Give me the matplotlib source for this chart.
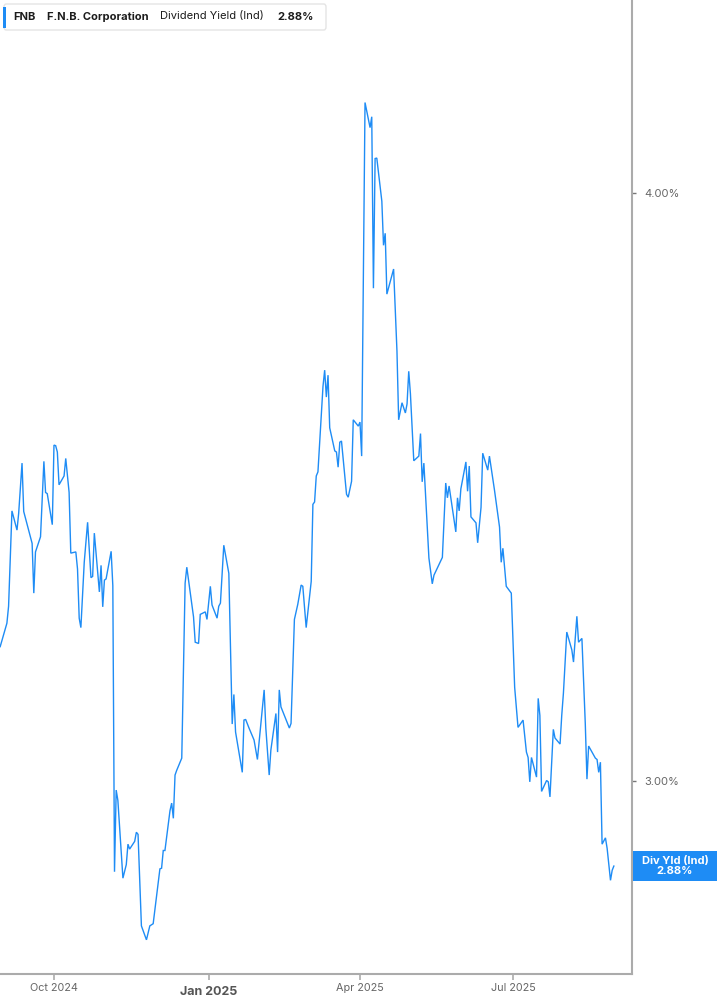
import pandas as pd
import matplotlib
matplotlib.use("Agg")
import matplotlib.pyplot as plt
import matplotlib.dates as mdates
from matplotlib.patches import Rectangle, FancyBboxPatch
from matplotlib.ticker import FixedLocator, NullLocator
from matplotlib.transforms import blended_transform_factory, IdentityTransform

# ----------------------------------------
# data
# ----------------------------------------
dates = [
    "2024-08-30", "2024-09-03", "2024-09-04", "2024-09-06", "2024-09-09", "2024-09-10",
    "2024-09-12", "2024-09-13", "2024-09-18", "2024-09-19", "2024-09-20", "2024-09-23",
    "2024-09-25", "2024-09-26", "2024-09-27", "2024-09-30", "2024-10-01", "2024-10-02",
    "2024-10-03", "2024-10-04", "2024-10-07", "2024-10-08", "2024-10-10", "2024-10-11",
    "2024-10-14", "2024-10-15", "2024-10-16", "2024-10-17", "2024-10-19", "2024-10-21",
    "2024-10-23", "2024-10-24", "2024-10-25", "2024-10-28", "2024-10-29", "2024-10-30",
    "2024-10-31", "2024-11-01", "2024-11-04", "2024-11-05", "2024-11-06", "2024-11-07",
    "2024-11-08", "2024-11-11", "2024-11-13", "2024-11-14", "2024-11-15", "2024-11-18",
    "2024-11-19", "2024-11-20", "2024-11-22", "2024-11-25", "2024-11-27", "2024-11-29",
    "2024-12-03", "2024-12-04", "2024-12-05", "2024-12-06", "2024-12-09", "2024-12-10",
    "2024-12-11", "2024-12-12", "2024-12-13", "2024-12-16", "2024-12-18", "2024-12-19",
    "2024-12-23", "2024-12-24", "2024-12-26", "2024-12-27", "2024-12-30", "2024-12-31",
    "2025-01-02", "2025-01-03", "2025-01-06", "2025-01-07", "2025-01-08", "2025-01-10",
    "2025-01-13", "2025-01-15", "2025-01-16", "2025-01-17", "2025-01-21", "2025-01-22",
    "2025-01-23", "2025-01-25", "2025-01-28", "2025-01-30", "2025-02-03", "2025-02-04",
    "2025-02-06", "2025-02-07", "2025-02-10", "2025-02-11", "2025-02-12", "2025-02-13",
    "2025-02-18", "2025-02-19", "2025-02-21", "2025-02-23", "2025-02-25", "2025-02-26",
    "2025-02-28", "2025-03-03", "2025-03-04", "2025-03-05", "2025-03-06", "2025-03-07",
    "2025-03-10", "2025-03-11", "2025-03-12", "2025-03-13", "2025-03-14", "2025-03-17",
    "2025-03-18", "2025-03-19", "2025-03-20", "2025-03-21", "2025-03-24", "2025-03-25",
    "2025-03-27", "2025-03-28", "2025-03-31", "2025-04-01", "2025-04-02", "2025-04-04",
    "2025-04-07", "2025-04-08", "2025-04-09", "2025-04-10", "2025-04-11", "2025-04-14",
    "2025-04-15", "2025-04-16", "2025-04-17", "2025-04-21", "2025-04-23", "2025-04-24",
    "2025-04-26", "2025-04-28", "2025-04-29", "2025-04-30", "2025-05-01", "2025-05-03",
    "2025-05-06", "2025-05-07", "2025-05-08", "2025-05-09", "2025-05-12", "2025-05-14",
    "2025-05-15", "2025-05-20", "2025-05-22", "2025-05-23", "2025-05-24", "2025-05-28",
    "2025-05-29", "2025-05-30", "2025-05-31", "2025-06-03", "2025-06-04", "2025-06-05",
    "2025-06-06", "2025-06-09", "2025-06-10", "2025-06-12", "2025-06-13", "2025-06-16",
    "2025-06-17", "2025-06-20", "2025-06-23", "2025-06-24", "2025-06-25", "2025-06-27",
    "2025-06-30", "2025-07-02", "2025-07-04", "2025-07-07", "2025-07-09", "2025-07-10",
    "2025-07-11", "2025-07-12", "2025-07-15", "2025-07-16", "2025-07-17", "2025-07-18",
    "2025-07-21", "2025-07-22", "2025-07-23", "2025-07-25", "2025-07-26", "2025-07-29",
    "2025-07-30", "2025-07-31", "2025-08-02", "2025-08-05", "2025-08-06", "2025-08-08",
    "2025-08-09", "2025-08-11", "2025-08-13", "2025-08-14", "2025-08-15", "2025-08-19",
    "2025-08-20", "2025-08-21", "2025-08-22", "2025-08-23", "2025-08-25", "2025-08-26",
    "2025-08-28", "2025-08-29", "2025-08-30",
]
yields = [
    3.204, 3.241, 3.268, 3.424, 3.392, 3.420,
    3.505, 3.423, 3.370, 3.289, 3.356, 3.381,
    3.508, 3.455, 3.453, 3.401, 3.536, 3.535,
    3.524, 3.468, 3.483, 3.513, 3.455, 3.354,
    3.356, 3.328, 3.249, 3.234, 3.339, 3.405,
    3.314, 3.316, 3.387, 3.291, 3.334, 3.267,
    3.310, 3.312, 3.357, 3.301, 2.870, 2.987,
    2.972, 2.861, 2.880, 2.909, 2.902, 2.913,
    2.926, 2.923, 2.795, 2.776, 2.795, 2.798,
    2.874, 2.875, 2.900, 2.900, 2.957, 2.968,
    2.946, 3.009, 3.016, 3.034, 3.305, 3.331,
    3.251, 3.211, 3.209, 3.255, 3.259, 3.247,
    3.300, 3.270, 3.249, 3.268, 3.273, 3.367,
    3.321, 3.085, 3.130, 3.073, 3.013, 3.091,
    3.092, 3.079, 3.061, 3.032, 3.137, 3.079,
    3.009, 3.046, 3.101, 3.043, 3.137, 3.111,
    3.079, 3.086, 3.247, 3.271, 3.302, 3.300,
    3.234, 3.308, 3.435, 3.439, 3.483, 3.490,
    3.639, 3.668, 3.620, 3.659, 3.566, 3.526,
    3.524, 3.498, 3.541, 3.543, 3.452, 3.447,
    3.474, 3.580, 3.569, 3.576, 3.517, 4.181,
    4.130, 4.152, 3.818, 4.068, 4.069, 3.984,
    3.899, 3.922, 3.807, 3.854, 3.702, 3.580,
    3.610, 3.592, 3.608, 3.666, 3.626, 3.509,
    3.517, 3.556, 3.473, 3.505, 3.346, 3.304,
    3.318, 3.347, 3.471, 3.446, 3.466, 3.389,
    3.446, 3.424, 3.461, 3.507, 3.457, 3.500,
    3.414, 3.404, 3.371, 3.430, 3.522, 3.493,
    3.517, 3.459, 3.397, 3.339, 3.362, 3.300,
    3.289, 3.141, 3.080, 3.091, 3.043, 3.035,
    2.999, 3.035, 3.006, 3.124, 3.098, 2.985,
    3.001, 2.999, 2.977, 3.077, 3.064, 3.055,
    3.098, 3.132, 3.227, 3.199, 3.180, 3.252,
    3.211, 3.217, 3.086, 3.003, 3.052, 3.034,
    3.032, 3.013, 3.028, 2.909, 2.918, 2.903,
    2.858, 2.872, 2.878,
]

x_ticks = ["2024-10-01", "2025-01-01", "2025-04-01", "2025-07-01"]
x_tick_labels = ["Oct 2024", "Jan 2025", "Apr 2025", "Jul 2025"]
y_ticks = [3.0, 4.0]
y_tick_labels = ["3.00%", "4.00%"]
x_range = ["2024-08-29 21:30", "2025-09-09 19:00"]
y_range = [2.730, 4.396]

ticker_name = "FNB"
company = "F.N.B. Corporation"
metric = "Dividend Yield (Ind)"
metric_short = "Div Yld (Ind)"

# ----------------------------------------
# style
# ----------------------------------------
LINE = "#1e8cf5"
SPINE = "#ababab"
TXT = "#666666"
plt.rcParams["font.family"] = ["Inter", "DejaVu Sans"]

W, H = 717, 1005
fig = plt.figure(figsize=(W / 100, H / 100), dpi=100)
ax = fig.add_axes([0, 31 / H, 632 / W, 974 / H])

x = pd.to_datetime(dates)
ax.plot(x, yields, color=LINE, lw=1.0, solid_joinstyle="miter")

ax.set_yscale("log")
ax.set_ylim(*y_range)
ax.set_xlim(pd.to_datetime(x_range))

ax.yaxis.set_major_locator(FixedLocator(y_ticks))
ax.yaxis.set_minor_locator(NullLocator())
ax.set_yticklabels(y_tick_labels)
ax.yaxis.tick_right()
ax.tick_params(axis="y", which="both", length=3, width=1, color="#777777",
               pad=6, labelsize=8, labelcolor=TXT)

ax.set_xticks(pd.to_datetime(x_ticks))
ax.set_xticklabels([])
ax.xaxis.set_minor_locator(NullLocator())
ax.tick_params(axis="x", length=4, width=1.2, color=SPINE)

for s in ["top", "left"]:
    ax.spines[s].set_visible(False)
for s in ["right", "bottom"]:
    ax.spines[s].set_color(SPINE)
    ax.spines[s].set_linewidth(1.5)

# x labels drawn by hand so Jan can be bold and sit lower
trans = blended_transform_factory(ax.transData, ax.transAxes)
for d, lab in zip(x_ticks, x_tick_labels):
    bold = lab.startswith("Jan")
    ax.text(mdates.date2num(pd.Timestamp(d)), -0.0188 if bold else -0.0146, lab,
            transform=trans, ha="center", va="center",
            fontsize=9 if bold else 7.8, fontweight="bold" if bold else "normal",
            color="#555555" if bold else TXT, clip_on=False)

# ----------------------------------------
# header box
# ----------------------------------------
fig.patches.append(FancyBboxPatch((4 / W, 1 - 30 / H), 322 / W, 26 / H,
                                  boxstyle="round,pad=0,rounding_size=0.003",
                                  transform=fig.transFigure, fc="white",
                                  ec="#e4e4e4", lw=1))
fig.patches.append(Rectangle((3 / W, 1 - 28 / H), 3 / W, 21 / H,
                             transform=fig.transFigure, fc=LINE, ec="none"))
last = yields[-1]
head = [(13, ticker_name, "bold"), (47, company, "bold"),
        (160, metric, "normal"), (277, f"{last:.2f}%", "bold")]
for px, s, wt in head:
    fig.text(px / W, 1 - 16.5 / H, s, ha="left", va="center",
             fontsize=8, fontweight=wt, color="#1c1c1c")

# ----------------------------------------
# last value tag on the right axis
# ----------------------------------------
y_disp = ax.transData.transform((mdates.date2num(x[-1]), last))[1]
fig.add_artist(Rectangle((633, y_disp - 15), 84, 30, transform=IdentityTransform(),
                         fc=LINE, ec="none"))
fig.text(675, y_disp, f"{metric_short}\n{last:.2f}%", transform=IdentityTransform(),
         ha="center", va="center", color="white", fontsize=8,
         fontweight="bold", linespacing=1.0)

fig.savefig("out.png", dpi=100)
